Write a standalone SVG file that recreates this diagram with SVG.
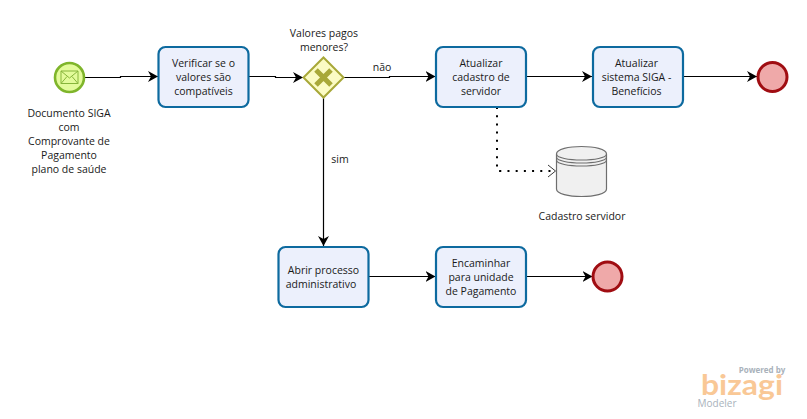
<svg xmlns="http://www.w3.org/2000/svg" width="807" height="419" viewBox="0 0 807 419">
<style>
text{font-family:"Open Sans","Noto Sans","Liberation Sans",sans-serif;font-size:10.5px;fill:#1a1a1a;text-anchor:middle}
.task{fill:#ecf0fc;stroke:#0d6a9f;stroke-width:2.2}
.flow{fill:none;stroke:#000;stroke-width:1.2;marker-end:url(#arrow)}
.end{fill:#efa9a9;stroke:#a00d12;stroke-width:3}
</style>
<defs>
<marker id="arrow" markerUnits="userSpaceOnUse" markerWidth="12" markerHeight="12" refX="10" refY="6" orient="auto">
<path d="M0,0.5 L10,6 L0,11.5 L3,6 Z" fill="#000"/>
</marker>
<marker id="open" markerUnits="userSpaceOnUse" markerWidth="12" markerHeight="14" refX="9" refY="7" orient="auto">
<path d="M1,1 L8.500,7 L1,13" fill="none" stroke="#222" stroke-width="0.9"/>
</marker>
</defs>
<g id="connectors">
<path class="flow" d="M84,77.500 H120.500 V76.500 H158"/>
<path class="flow" d="M248,76.500 H275.500 V77.500 H303"/>
<path class="flow" d="M343,77.500 H389.500 V76.500 H435.500"/>
<path class="flow" d="M526,76.500 H592"/>
<path class="flow" d="M683,76.500 H757"/>
<path class="flow" d="M323.500,97 V246"/>
<path class="flow" d="M369,276.500 H435.500"/>
<path class="flow" d="M526,276.500 H592.500"/>
<path d="M497,107 V170 Q497,171 500,171 H556" fill="none" stroke="#000" stroke-width="2" stroke-dasharray="2 6.200" marker-end="url(#open)"/>
<text x="382" y="71">não</text>
<text x="340" y="163">sim</text>
</g>
<g id="start">
<circle cx="69.500" cy="77.500" r="14.500" fill="#e3fb9a" stroke="#7fb52b" stroke-width="2.600"/>
<path d="M61,71 H78 V83.500 H61 Z M61,71 L69.500,78 L78,71 M61,83.500 L67,76.500 M78,83.500 L72,76.500" fill="none" stroke="#87b53a" stroke-width="1"/>
<text x="69"><tspan x="69" y="117">Documento SIGA</tspan><tspan x="69" y="131">com</tspan><tspan x="69" y="145">Comprovante de</tspan><tspan x="69" y="159">Pagamento</tspan><tspan x="69" y="173">plano de saúde</tspan></text>
</g>
<g id="task-verificar">
<rect class="task" x="158.500" y="47" width="90" height="60" rx="7"/>
<text><tspan x="203.500" y="67">Verificar se o</tspan><tspan x="203.500" y="81">valores são</tspan><tspan x="203.500" y="95">compatíveis</tspan></text>
</g>
<g id="gateway">
<path d="M323.500,57.500 L343.500,77.500 L323.500,97.500 L303.500,77.500 Z" fill="#fbfbc4" stroke="#a8a838" stroke-width="2"/>
<path d="M316,70 L331,85 M331,70 L316,85" stroke="#a8a838" stroke-width="5"/>
<text><tspan x="324" y="37">Valores pagos</tspan><tspan x="324" y="51">menores?</tspan></text>
</g>
<g id="task-cadastro">
<rect class="task" x="436" y="47" width="90" height="60" rx="7"/>
<text><tspan x="481" y="67">Atualizar</tspan><tspan x="481" y="81">cadastro de</tspan><tspan x="481" y="95">servidor</tspan></text>
</g>
<g id="task-siga">
<rect class="task" x="593" y="47" width="90" height="60" rx="7"/>
<text><tspan x="636.500" y="67">Atualizar</tspan><tspan x="636.500" y="81">sistema SIGA -</tspan><tspan x="636.500" y="95">Benefícios</tspan></text>
</g>
<g id="end-1">
<circle class="end" cx="772.500" cy="77" r="14.500"/>
</g>
<g id="datastore">
<path d="M556.500,154 C556.500,144 606.500,144 606.500,154 V189 C606.500,199 556.500,199 556.500,189 Z" fill="#f0f0f0" stroke="#6e6e6e" stroke-width="1.200"/>
<path d="M556.500,154 C556.500,162 606.500,162 606.500,154 M556.500,157 C556.500,165 606.500,165 606.500,157 M556.500,160 C556.500,168 606.500,168 606.500,160" fill="none" stroke="#6e6e6e" stroke-width="1.100"/>
<text x="582" y="220">Cadastro servidor</text>
</g>
<g id="task-abrir">
<rect class="task" x="278.500" y="247" width="90" height="60" rx="7"/>
<text><tspan x="323.500" y="274">Abrir processo</tspan><tspan x="321" y="288">administrativo</tspan></text>
</g>
<g id="task-encaminhar">
<rect class="task" x="436" y="247" width="90" height="60" rx="7"/>
<text><tspan x="481" y="267">Encaminhar</tspan><tspan x="481" y="281">para unidade</tspan><tspan x="481" y="295">de Pagamento</tspan></text>
</g>
<g id="end-2">
<circle class="end" cx="607.500" cy="276.500" r="14.500"/>
</g>
<g id="logo">
<text x="762" y="373" style="font-size:8px;font-weight:700;fill:#a9b2bb">Powered by</text>
<text x="742" y="395" textLength="82" lengthAdjust="spacingAndGlyphs" style="font-size:29px;font-weight:700;fill:#f9c896;font-family:Lato,sans-serif">bizagi</text>
<text x="717" y="407" style="font-size:10px;fill:#a9b2bb">Modeler</text>
</g>
</svg>
